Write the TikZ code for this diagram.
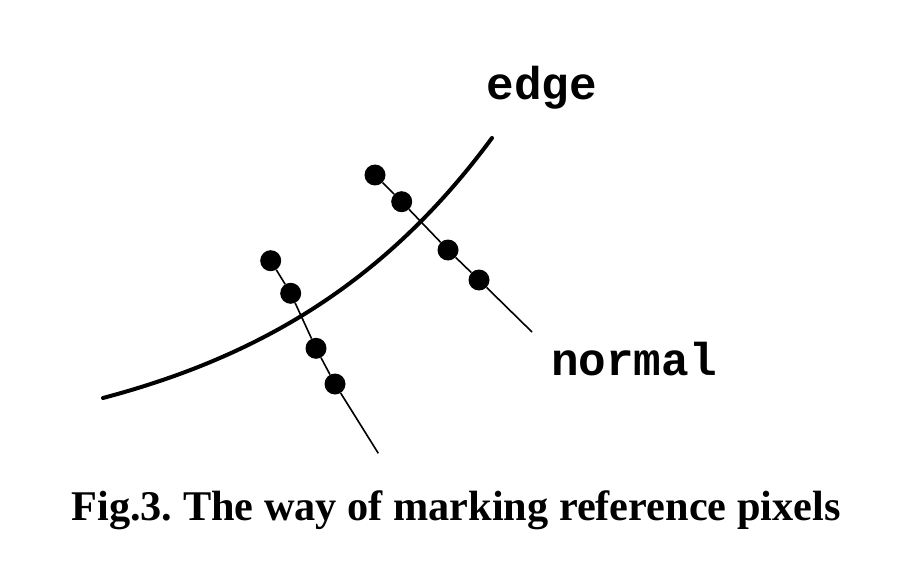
\documentclass[tikz,border=0pt]{standalone}
\usepackage{fontspec}
\setmainfont{Liberation Serif}
\newfontfamily\monofont{Liberation Mono}
\usepackage{tikz}
\frenchspacing

\tikzset{
  pixel/.style={circle, fill=black, inner sep=0pt, minimum size=21pt},
  normalline/.style={line width=1.6pt},
  edgeline/.style={line width=4pt, line cap=round},
  labeltext/.style={font=\monofont\bfseries\fontsize{46}{46}\selectfont, inner sep=0pt, anchor=base},
  captiontext/.style={font=\bfseries\fontsize{42.3}{42.3}\selectfont, inner sep=0pt, anchor=base}
}

\begin{document}
\begin{tikzpicture}[x=1pt, y=-1pt]
            \useasboundingbox (0,0) rectangle (902,580);

            \draw[edgeline] plot[domain=103:492, samples=80] (\x, {398-83.7*(exp(0.0042*(\x-170))-0.755)});

            \node[pixel] (up1) at (375,175) {};
            \node[pixel] (up2) at (401.7,201.7) {};
            \node[pixel] (up3) at (448,250) {};
            \node[pixel] (up4) at (479,280) {};
            \coordinate (upend) at (532,332);
            \draw[normalline] (up1) -- (up2) -- (up3) -- (up4) -- (upend);

            \node[pixel] (lo1) at (270.7,260.7) {};
            \node[pixel] (lo2) at (290.7,293.3) {};
            \node[pixel] (lo3) at (316,348.3) {};
            \node[pixel] (lo4) at (335,384) {};
            \coordinate (loend) at (378.3,453.3);
            \draw[normalline] (lo1) -- (lo2) -- (lo3) -- (lo4) -- (loend);

            \node[labeltext] (edgelabel) at (542,100) {edge};
            \node[labeltext] (normallabel) at (634,375) {normal};
            \node[captiontext] (caption) at (456,520) {Fig.3. The way of marking reference pixels};

          \end{tikzpicture}
\end{document}
